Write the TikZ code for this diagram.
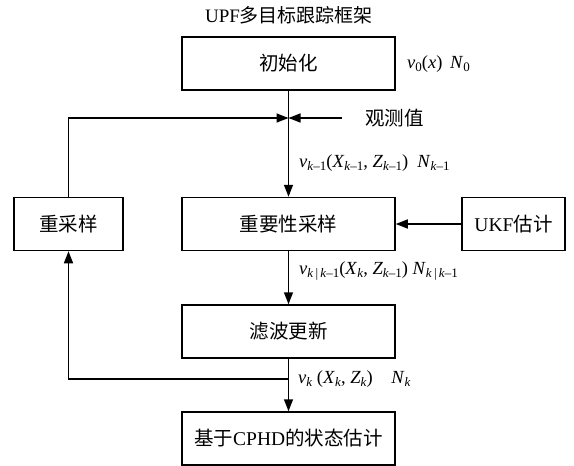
\documentclass[tikz,border=0pt]{standalone}
\usepackage{fontspec}
\setmainfont{Liberation Serif}
\newfontfamily\cjk{Noto Sans CJK SC}
\usetikzlibrary{arrows.meta}
\newcommand{\iv}[1]{\textit{#1}}
\newcommand{\sbs}[1]{\raisebox{-0.35ex}{\fontsize{13}{14}\selectfont #1}}
\begin{document}
\begin{tikzpicture}[x=1pt,y=-1pt,
  box/.style={draw,line width=1.5pt,minimum width=213pt,minimum height=53pt,inner sep=0pt,font=\fontsize{19.5}{21}\selectfont},
  conn/.style={line width=1.5pt,-{Triangle[length=12pt,width=9pt]}},
  lbl/.style={anchor=west,inner sep=0pt,font=\fontsize{18.5}{20}\selectfont},
  txt/.style={inner sep=0pt,font=\fontsize{19.5}{21}\selectfont}]
\useasboundingbox (0,0) rectangle (574,466);
\node[txt,font=\fontsize{19}{21}\selectfont] (title) at (289,15) {UPF{\cjk 多目标跟踪框架}};
\node[box] (init) at (288.5,63.5) {\cjk 初始化};
\node[box] (imp) at (288.5,224) {\cjk 重要性采样};
\node[box,minimum width=109pt] (res) at (68.5,224) {\cjk 重采样};
\node[box,minimum width=103pt] (ukf) at (513.5,224) {UKF{\cjk 估计}};
\node[box] (filt) at (288.5,331.5) {\cjk 滤波更新};
\node[box] (cphd) at (288.5,438.5) {{\cjk 基于}CPHD{\cjk 的状态估计}};
\coordinate (J) at (288.5,118);
\coordinate (obs) at (342,118);
\coordinate (F) at (288.5,379);
\node[txt,anchor=west] (obstext) at (365,118) {\cjk 观测值};
\node[lbl] (l0) at (407,64) {\iv{v}\sbs{0}(\iv{x})\ \,\iv{N}\sbs{0}};
\node[lbl] (l1) at (299,163) {\iv{v}\sbs{\iv{k}–1}(\iv{X}\sbs{\iv{k}–1}, \iv{Z}\sbs{\iv{k}–1})\ \ \iv{N}\sbs{\iv{k}–1}};
\node[lbl] (l2) at (299,271) {\iv{v}\sbs{\iv{k}\,|\,\iv{k}–1}(\iv{X}\sbs{\iv{k}}, \iv{Z}\sbs{\iv{k}–1})\ \iv{N}\sbs{\iv{k}\,|\,\iv{k}–1}};
\node[lbl] (l3) at (298,379) {\iv{v}\sbs{\iv{k}} (\iv{X}\sbs{\iv{k}}, \iv{Z}\sbs{\iv{k}})\quad\iv{N}\sbs{\iv{k}}};
\draw[conn] (init.south) -- (imp.north);
\draw[conn] (res.north) |- (J);
\draw[conn] (obs) -- (J);
\draw[conn] (ukf.west) -- (imp.east);
\draw[conn] (imp.south) -- (filt.north);
\draw[conn] (filt.south) -- (cphd.north);
\draw[conn] (F) -| (res.south);
\end{tikzpicture}
\end{document}
